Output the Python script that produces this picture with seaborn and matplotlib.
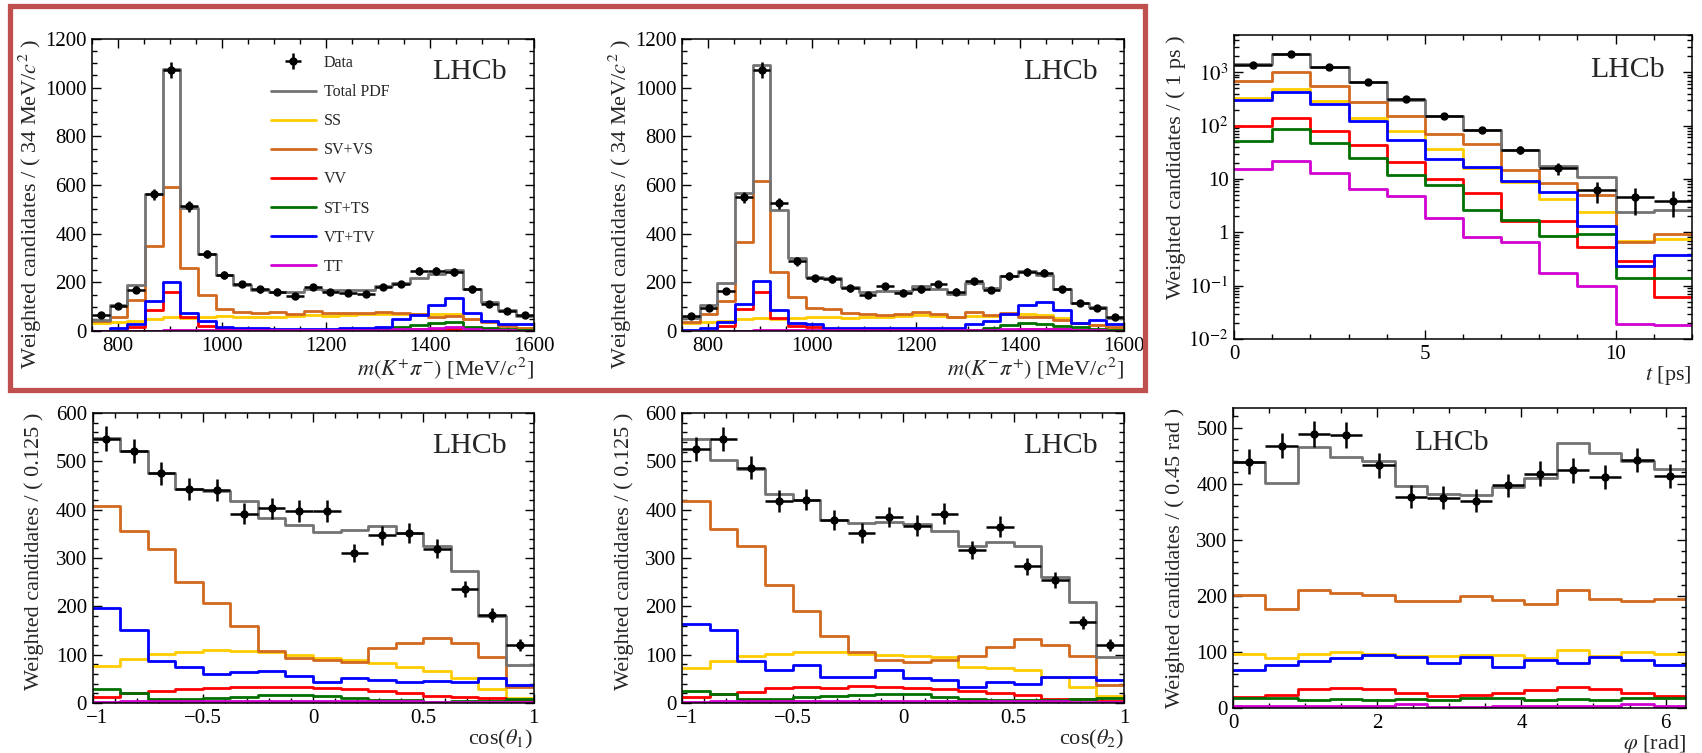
import numpy as np
import pandas as pd
import matplotlib
matplotlib.use("Agg")
import matplotlib.pyplot as plt
import seaborn as sns
from matplotlib.ticker import MultipleLocator, FixedLocator, FixedFormatter, FuncFormatter, LogLocator, NullFormatter
from matplotlib.lines import Line2D
from matplotlib.patches import Rectangle
from matplotlib.transforms import ScaledTranslation

# ---------------- data ----------------
comp_labels = ["SS", "SV+VS", "VV", "ST+TS", "VT+TV", "TT"]

# m(K+ pi-) : 25 bins of 34 MeV from 750 to 1600
mass_lo, mass_hi, mass_nbins = 750, 1600, 25
data1 = [66, 103, 170, 561, 1074, 513, 316, 230, 193, 171, 162, 144, 180, 159, 155, 151, 180, 193, 248, 248, 244, 171, 111, 83, 67]
err1 = [8, 10, 13, 24, 33, 23, 18, 15, 14, 13, 13, 12, 13, 13, 12, 12, 13, 14, 16, 16, 16, 13, 11, 9, 8]
total1 = [45, 107, 189, 561, 1077, 506, 316, 230, 189, 168, 159, 159, 173, 168, 168, 168, 185, 196, 216, 234, 250, 171, 120, 88, 60]
ss1 = [34, 38, 41, 48, 56, 52, 56, 62, 56, 59, 56, 62, 66, 62, 66, 70, 70, 68, 68, 70, 68, 50, 40, 24, 14]
sv1 = [41, 59, 127, 348, 593, 258, 148, 92, 79, 75, 79, 70, 84, 75, 73, 75, 77, 75, 70, 59, 62, 48, 38, 21, 14]
vv1 = [1, 2, 18, 86, 159, 57, 21, 8, 5, 4, 4, 4, 4, 4, 4, 4, 5, 6, 9, 10, 10, 6, 4, 3, 2]
st1 = [1, 1, 1, 2, 2, 2, 2, 2, 2, 2, 2, 2, 2, 3, 4, 5, 8, 18, 25, 31, 36, 18, 14, 8, 5]
vt1 = [2, 11, 27, 125, 200, 75, 41, 16, 11, 11, 10, 9, 9, 10, 11, 13, 18, 48, 64, 105, 135, 73, 40, 29, 27]
tt1 = [1, 1, 1, 2, 3, 3, 3, 3, 3, 3, 3, 3, 3, 3, 3, 4, 5, 7, 10, 14, 15, 9, 5, 3, 2]

# m(K- pi+)
data2 = [62, 93, 164, 550, 1074, 524, 286, 216, 214, 175, 148, 185, 158, 171, 193, 162, 205, 168, 226, 244, 240, 171, 117, 94, 56]
err2 = [8, 10, 13, 23, 33, 23, 17, 15, 15, 13, 12, 14, 13, 13, 14, 13, 14, 13, 15, 16, 15, 13, 11, 10, 7]
total2 = [52, 107, 196, 568, 1095, 496, 298, 223, 216, 182, 162, 164, 164, 185, 171, 151, 196, 178, 226, 248, 230, 171, 114, 98, 52]
ss2 = [32, 36, 40, 48, 52, 49, 55, 59, 56, 55, 56, 59, 62, 66, 63, 59, 63, 62, 70, 70, 66, 52, 34, 25, 14]
sv2 = [38, 70, 123, 366, 616, 244, 138, 93, 89, 75, 70, 66, 70, 79, 70, 59, 77, 66, 73, 59, 56, 45, 32, 25, 15]
vv2 = [1, 2, 22, 89, 159, 52, 22, 18, 8, 5, 4, 4, 4, 4, 4, 4, 4, 5, 6, 7, 7, 7, 4, 3, 2]
st2 = [1, 1, 1, 2, 2, 2, 2, 2, 2, 2, 2, 2, 2, 2, 3, 4, 5, 11, 25, 34, 29, 21, 15, 10, 5]
vt2 = [6, 11, 36, 111, 207, 86, 32, 27, 14, 11, 11, 11, 11, 11, 11, 11, 27, 41, 70, 107, 121, 86, 34, 45, 27]
tt2 = [1, 1, 1, 2, 3, 3, 3, 3, 3, 3, 3, 3, 3, 3, 3, 3, 4, 5, 7, 9, 9, 7, 4, 3, 2]

# decay time t : 12 bins of 1 ps
t_lo, t_hi, t_nbins = 0, 12, 12
data3 = [1361, 2240, 1250, 657, 316, 152, 83, 35, 15.8, 6.2, 4.5, 3.9]
err3 = [37, 47, 35, 26, 18, 12.3, 9.1, 5.9, 4.0, 2.7, 2.4, 2.0]
total3 = [1443, 2158, 1232, 655, 305, 152, 83, 35.5, 17.5, 10.7, 2.4, 2.6]
ss3 = [328, 483, 284, 138, 80, 36, 15.9, 8.9, 4.2, 2.4, 0.70, 0.75]
sv3 = [692, 993, 559, 275, 149, 69, 44.7, 14.7, 8.5, 5.0, 0.67, 0.95]
vv3 = [98, 138, 79, 44, 20.4, 9.9, 5.5, 1.65, 1.6, 0.52, 0.29, 0.062]
st3 = [52, 87, 47, 24.5, 12, 7.7, 2.6, 1.7, 0.87, 0.92, 0.137, 0.137]
vt3 = [297, 419, 257, 120, 53, 23.7, 17, 9.3, 5.6, 1.31, 0.237, 0.38]
tt3 = [15.3, 22, 12.9, 6.5, 4.8, 1.83, 0.83, 0.67, 0.17, 0.10, 0.019, 0.018]

# cos(theta1) / cos(theta2) : 16 bins of 0.125
c_lo, c_hi, c_nbins = -1.0, 1.0, 16
data4 = [547, 522, 475, 442, 440, 392, 403, 397, 397, 310, 347, 352, 319, 236, 182, 120]
err4 = [26, 25, 24, 23, 23, 22, 22, 22, 22, 19, 20, 21, 20, 17, 15, 12]
total4 = [548, 521, 475, 442, 439, 418, 383, 368, 353, 358, 367, 351, 325, 273, 181, 79]
ss4 = [77, 92, 102, 105, 110, 108, 105, 100, 93, 89, 83, 74, 67, 52, 28, 10]
sv4 = [407, 356, 319, 250, 206, 160, 107, 93, 88, 84, 114, 125, 134, 124, 96, 33]
vv4 = [12, 21, 25, 30, 31, 33, 34, 34, 31, 30, 25, 21, 14, 12, 10, 5]
st4 = [28, 21, 9, 8, 10, 12, 17, 17, 15, 10, 7, 6, 3, 5, 5, 8]
vt4 = [197, 151, 87, 74, 61, 64, 67, 55, 43, 52, 48, 43, 45, 43, 52, 38]
tt4 = [2, 4, 5, 5, 5, 5, 5, 5, 4, 4, 4, 4, 3, 3, 3, 3]

data5 = [526, 547, 487, 418, 421, 378, 352, 385, 367, 392, 317, 365, 283, 255, 167, 120]
err5 = [25, 25, 24, 22, 22, 21, 20, 21, 21, 21, 19, 21, 18, 17, 14, 12]
total5 = [547, 502, 484, 432, 420, 378, 373, 375, 370, 356, 325, 334, 325, 261, 208, 95]
ss5 = [73, 87, 97, 101, 105, 105, 102, 100, 97, 95, 75, 73, 68, 53, 34, 15]
sv5 = [418, 361, 325, 244, 191, 138, 105, 89, 85, 89, 98, 116, 132, 120, 98, 38]
vv5 = [12, 19, 23, 31, 33, 31, 36, 33, 31, 28, 24, 21, 16, 8, 8, 5]
st5 = [25, 19, 9, 8, 12, 15, 17, 19, 19, 12, 9, 7, 6, 7, 8, 10]
vt5 = [164, 151, 87, 69, 78, 54, 54, 69, 52, 48, 34, 43, 40, 54, 54, 47]
tt5 = [2, 4, 4, 4, 4, 4, 4, 4, 4, 4, 4, 4, 4, 4, 3, 3]

# phi : 14 bins over [0, 2pi]
phi_lo, phi_hi, phi_nbins = 0.0, 2 * np.pi, 14
data6 = [439, 468, 488, 487, 433, 377, 375, 370, 397, 418, 424, 412, 442, 414]
err6 = [22, 22, 23, 23, 22, 21, 21, 20, 21, 22, 22, 21, 22, 21]
total6 = [439, 402, 466, 448, 440, 396, 381, 379, 395, 411, 472, 454, 440, 426]
ss6 = [97, 89, 96, 99, 97, 93, 93, 94, 95, 89, 104, 93, 99, 97]
sv6 = [201, 176, 210, 205, 202, 190, 190, 199, 193, 186, 210, 195, 190, 195]
vv6 = [20, 23, 34, 36, 33, 26, 21, 23, 26, 32, 38, 34, 26, 21]
st6 = [18, 18, 15, 16, 15, 16, 15, 17, 17, 15, 16, 15, 17, 17]
vt6 = [67, 77, 83, 89, 94, 91, 80, 91, 73, 86, 80, 91, 86, 76]
tt6 = [4, 4, 4, 4, 4, 7, 2, 2, 4, 4, 4, 4, 7, 4]

# ---------------- style ----------------
sns.set_style("ticks")
plt.rcParams["font.family"] = ["Liberation Serif", "DejaVu Serif"]
plt.rcParams["mathtext.fontset"] = "stix"
plt.rcParams["axes.linewidth"] = 1.1

GRAY = "#737373"
comp_colors = ["#ffcc00", "#d2691e", "#ff0000", "#007000", "#0000ff", "#d000d0"]

W, H = 1702, 753
fig = plt.figure(figsize=(W / 100, H / 100), dpi=100)


def add_ax(l, r, t, b):
    ax = fig.add_axes([l / W, 1 - b / H, (r - l) / W, (b - t) / H])
    ax._wpx = r - l
    return ax


def draw(ax, lo, hi, nbins, comps, total, data, err):
    edges = np.linspace(lo, hi, nbins + 1)
    centers = 0.5 * (edges[:-1] + edges[1:])
    half = 0.5 * (edges[1:] - edges[:-1])
    for vals, col in zip(comps, comp_colors):
        df = pd.DataFrame({"x": centers, "w": np.asarray(vals, dtype=float)})
        sns.histplot(data=df, x="x", weights="w", bins=nbins, binrange=(lo, hi),
                     element="step", fill=False, color=col, linewidth=2.0, ax=ax)
    df = pd.DataFrame({"x": centers, "w": np.asarray(total, dtype=float)})
    sns.histplot(data=df, x="x", weights="w", bins=nbins, binrange=(lo, hi),
                 element="step", fill=False, color=GRAY, linewidth=2.0, ax=ax)
    eb = ax.errorbar(centers, data, xerr=half, yerr=err, fmt="o", color="black",
                     ms=5, elinewidth=1.8, capsize=0, zorder=6)
    return eb


def style(ax, xlabel, ylabel):
    ax.tick_params(which="both", direction="in", top=True, right=True,
                   labelsize=15, width=1.0, colors="black")
    ax.tick_params(which="major", length=6.5, pad=4)
    ax.tick_params(which="minor", length=3.5)
    ax.set_xlabel(xlabel, loc="right", fontsize=16, labelpad=0)
    ax.set_ylabel(ylabel, loc="top", fontsize=16)
    ax.yaxis.set_label_coords(-48.0 / ax._wpx, 1.0)
    for s in ax.spines.values():
        s.set_visible(True)
        s.set_color("black")


def lhcb(ax, x=0.94, y=0.862, ha="right"):
    ax.text(x, y, "LHCb", transform=ax.transAxes, ha=ha, va="baseline", fontsize=21.5)


minus_fmt = FuncFormatter(lambda v, p: ("%g" % v).replace("-", "\u2212"))

# ---------- panel 1 ----------
ax1 = add_ax(92, 533.5, 39, 331)
eb1 = draw(ax1, mass_lo, mass_hi, mass_nbins, [ss1, sv1, vv1, st1, vt1, tt1], total1, data1, err1)
ax1.set_xlim(mass_lo, mass_hi)
ax1.set_ylim(0, 1200)
ax1.xaxis.set_major_locator(MultipleLocator(200))
ax1.xaxis.set_minor_locator(MultipleLocator(50))
ax1.yaxis.set_major_locator(MultipleLocator(200))
ax1.yaxis.set_minor_locator(MultipleLocator(50))
style(ax1, r"$m(K^{+}\pi^{-})$ [MeV/$c^{2}$]", r"Weighted candidates / ( 34 MeV/$c^{2}$ )")
lhcb(ax1)
handles = [eb1, Line2D([], [], color=GRAY, lw=2.0)] + [Line2D([], [], color=c, lw=2.0) for c in comp_colors]
ax1.legend(handles, ["Data", "Total PDF"] + comp_labels, loc="upper left",
           bbox_to_anchor=(0.405, 0.945), frameon=False, fontsize=11.5,
           handlelength=2.8, handletextpad=0.5, labelspacing=0.82,
           borderpad=0, borderaxespad=0)

# ---------- panel 2 ----------
ax2 = add_ax(682, 1124, 39, 331)
draw(ax2, mass_lo, mass_hi, mass_nbins, [ss2, sv2, vv2, st2, vt2, tt2], total2, data2, err2)
ax2.set_xlim(mass_lo, mass_hi)
ax2.set_ylim(0, 1200)
ax2.xaxis.set_major_locator(MultipleLocator(200))
ax2.xaxis.set_minor_locator(MultipleLocator(50))
ax2.yaxis.set_major_locator(MultipleLocator(200))
ax2.yaxis.set_minor_locator(MultipleLocator(50))
style(ax2, r"$m(K^{-}\pi^{+})$ [MeV/$c^{2}$]", r"Weighted candidates / ( 34 MeV/$c^{2}$ )")
lhcb(ax2)

# ---------- panel 3 ----------
ax3 = add_ax(1234, 1692, 35, 339)
ax3.set_yscale("log")
draw(ax3, t_lo, t_hi, t_nbins, [ss3, sv3, vv3, st3, vt3, tt3], total3, data3, err3)
ax3.set_yscale("log")
ax3.set_xlim(t_lo, t_hi)
ax3.set_ylim(0.01, 5000)
ax3.xaxis.set_major_locator(MultipleLocator(5))
ax3.xaxis.set_minor_locator(MultipleLocator(1))
ax3.yaxis.set_major_locator(FixedLocator([1e-2, 1e-1, 1, 10, 100, 1000]))
ax3.yaxis.set_major_formatter(FixedFormatter([r"$10^{-2}$", r"$10^{-1}$", "1", "10", r"$10^{2}$", r"$10^{3}$"]))
ax3.yaxis.set_minor_locator(LogLocator(base=10, subs=np.arange(2, 10), numticks=20))
ax3.yaxis.set_minor_formatter(NullFormatter())
style(ax3, r"$t$ [ps]", "Weighted candidates / ( 1 ps )")
lhcb(ax3, x=0.94, y=0.861)

# ---------- panel 4 ----------
ax4 = add_ax(92.5, 533.5, 413, 703)
draw(ax4, c_lo, c_hi, c_nbins, [ss4, sv4, vv4, st4, vt4, tt4], total4, data4, err4)
ax4.set_xlim(c_lo, c_hi)
ax4.set_ylim(0, 600)
ax4.xaxis.set_major_locator(MultipleLocator(0.5))
ax4.xaxis.set_minor_locator(MultipleLocator(0.1))
ax4.xaxis.set_major_formatter(minus_fmt)
ax4.yaxis.set_major_locator(MultipleLocator(100))
ax4.yaxis.set_minor_locator(MultipleLocator(20))
style(ax4, r"cos($\theta_{1}$)", "Weighted candidates / ( 0.125 )")
lhcb(ax4)

# ---------- panel 5 ----------
ax5 = add_ax(682, 1124, 413, 703)
draw(ax5, c_lo, c_hi, c_nbins, [ss5, sv5, vv5, st5, vt5, tt5], total5, data5, err5)
ax5.set_xlim(c_lo, c_hi)
ax5.set_ylim(0, 600)
ax5.xaxis.set_major_locator(MultipleLocator(0.5))
ax5.xaxis.set_minor_locator(MultipleLocator(0.1))
ax5.xaxis.set_major_formatter(minus_fmt)
ax5.yaxis.set_major_locator(MultipleLocator(100))
ax5.yaxis.set_minor_locator(MultipleLocator(20))
style(ax5, r"cos($\theta_{2}$)", "Weighted candidates / ( 0.125 )")
lhcb(ax5)

# ---------- panel 6 ----------
ax6 = add_ax(1233, 1686, 408, 708)
draw(ax6, phi_lo, phi_hi, phi_nbins, [ss6, sv6, vv6, st6, vt6, tt6], total6, data6, err6)
ax6.set_xlim(phi_lo, phi_hi)
ax6.set_ylim(0, 535)
ax6.xaxis.set_major_locator(MultipleLocator(2))
ax6.xaxis.set_minor_locator(MultipleLocator(0.5))
ax6.yaxis.set_major_locator(MultipleLocator(100))
ax6.yaxis.set_minor_locator(MultipleLocator(20))
style(ax6, r"$\varphi$ [rad]", "Weighted candidates / ( 0.45 rad )")
lhcb(ax6, x=0.399, y=0.861, ha="left")

# ---------- highlight frame ----------
frame = Rectangle((10 / W, 1 - 390 / H), 1135 / W, 384 / H, transform=fig.transFigure,
                  fill=False, edgecolor="#c0504d", linewidth=3.8, zorder=10)
fig.patches.append(frame)

# nudge the corner "-1" labels right, as in the original layout
fig.canvas.draw()
for ax in (ax4, ax5):
    for tk in ax.xaxis.get_major_ticks():
        if abs(tk.get_loc() - c_lo) < 1e-9:
            tk.label1.set_transform(tk.label1.get_transform() +
                                    ScaledTranslation(5 / 100, 0, fig.dpi_scale_trans))

fig.savefig("out.png", dpi=100)
